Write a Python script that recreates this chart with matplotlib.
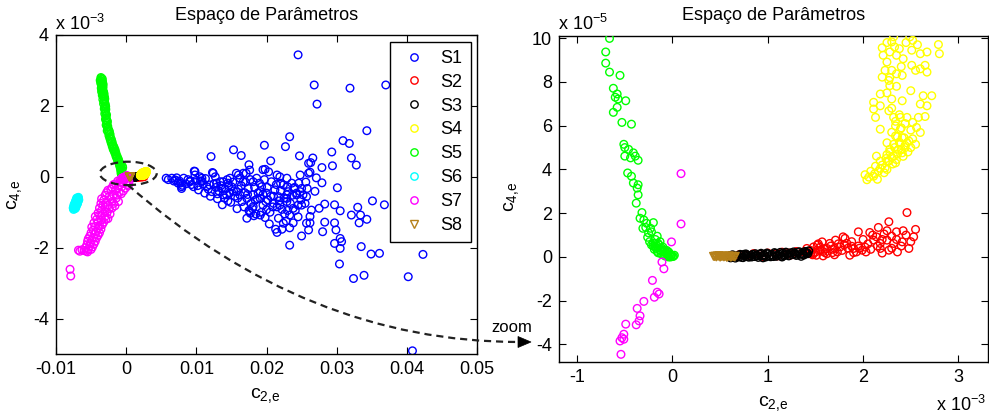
import numpy as np
import matplotlib
matplotlib.use("Agg")
import matplotlib.pyplot as plt
from matplotlib.patches import Ellipse, PathPatch, Polygon
from matplotlib.path import Path
from matplotlib.lines import Line2D

plt.rcParams["font.family"] = ["Liberation Sans", "DejaVu Sans"]
plt.rcParams["mathtext.default"] = "regular"
plt.rcParams["axes.unicode_minus"] = False

# Parameter estimates (c2,e ; c4,e) per scenario.
# c2,e in units of 1e-3, c4,e in units of 1e-5.
s1_points = [
    (24.5, 344), (26.8, 259), (27.2, 205), (31.9, 250), (37.0, 259), (34.3, 130),
    (30.9, 102), (31.8, 94), (32.1, 53), (32.8, 33), (29.3, 70), (29.4, 31),
    (30.1, -31), (35.1, -68), (36.8, -79), (29.7, -79), (30.5, -96), (33.0, -86),
    (32.1, -108), (33.4, -108), (34.3, -120), (33.2, -130), (29.7, -130), (29.9, -150),
    (30.5, -174), (30.7, -183), (29.7, -188), (30.5, -202), (33.5, -197), (34.9, -218),
    (36.1, -216), (42.3, -219), (30.4, -246), (32.4, -287), (33.9, -278), (40.2, -282),
    (40.8, -491), (23.3, -193), (25.0, -167), (26.0, -150), (26.2, -130), (26.2, -112),
    (26.4, -94), (26.9, -41), (27.5, -89), (28.0, -155), (28.3, -128), (27.9, -17),
    (27.9, 26), (26.2, 13), (26.3, 40), (26.6, 53), (24.7, 59), (23.3, 113),
    (22.7, 85), (19.7, 89), (15.3, 76), (16.4, 60), (12.1, 57), (20.6, 45),
    (17.5, 34), (19.5, 20), (9.8, 15), (12.4, 10), (5.7, -4), (17.2, -117),
    (19.1, -108), (17.7, -103), (13.7, -79), (14.9, -72), (20.4, -133), (21.3, -148),
    (22.2, -148), (22.8, -125), (23.3, -144), (24.5, -113), (27.1, -3), (28.3, -77),
    (21.5, -157), (23.3, -108), (25.5, -75), (25.0, -80), (25.7, -131), (22.4, -131),
    (21.7, -117), (20.0, -93), (18.1, -84), (17.6, -98), (18.4, -66), (19.1, -61),
    (21.0, -75), (21.9, -80), (22.9, -70), (23.8, -89), (24.5, -80), (25.2, -51),
    (24.3, -46), (22.9, -51), (16.2, -51), (17.2, -61), (14.8, -45), (13.8, -51),
    (12.2, -42), (11.2, -46), (7.0, -9), (7.9, -28), (9.1, -14), (9.8, 5),
    (10.8, -4), (11.5, -28), (12.9, -18), (13.6, -33), (14.3, -51), (15.0, -28),
    (15.7, -42), (16.0, 5), (16.7, -14), (17.4, -33), (18.1, -51), (18.6, -4),
    (19.3, -28), (20.0, -46), (20.7, -14), (21.2, -37), (21.7, -56), (22.4, -23),
    (23.1, -42), (23.6, -18), (24.3, -51), (25.0, -33), (25.7, -56), (21.9, 0),
    (20.3, 14), (17.6, 19), (16.7, 10), (14.8, -4), (13.8, -14), (12.7, 0),
    (8.2, -4), (7.4, -18), (6.5, -4), (10.3, -37), (9.6, -28), (19.1, -42),
    (22.9, -61), (14.0, -60), (15.5, -55), (16.5, -70), (18.0, -90), (19.5, -80),
    (20.5, -100), (21.0, -55), (22.0, -40), (23.0, -95), (24.0, -30), (12.8, -30),
    (11.0, -20), (10.0, -10), (8.5, -20), (13.2, -40), (14.6, -25), (16.0, -35),
    (17.0, -15), (18.8, -45), (20.2, -65), (21.5, -85), (22.6, -105), (19.8, -115),
    (18.5, -105), (17.8, -75), (15.8, -90), (24.8, 5), (25.6, -15), (23.8, -130),
    (19.8, 21), (12.3, 12), (9.7, 16), (7.7, -18), (7.9, -33), (9.1, -12),
    (10.5, 0), (10.8, -13), (11.9, -23), (13.4, -14), (14.5, -18), (15.7, 10),
    (16.2, -4), (17.1, 10), (18.1, -14), (19.0, -18), (21.5, 5), (22.0, -18),
    (22.9, -4), (23.9, -33), (24.8, -42), (25.8, -33), (26.0, 10), (26.0, 38),
    (6.0, -8), (6.8, -12), (7.2, -3), (7.6, -12), (8.0, -24), (8.8, -8),
    (9.3, -22), (10.2, -25), (10.6, -12), (11.3, -5), (11.7, -35), (12.5, -20),
    (13.0, -48), (13.5, -25), (14.1, -35), (14.4, -8), (15.2, -15), (15.3, -40),
    (15.9, -60), (16.4, -25), (16.9, -45), (17.3, -50), (17.7, -8), (18.3, -30),
    (18.7, -62), (19.5, -50), (19.7, -8), (20.1, -30), (20.6, -55), (20.9, -85),
    (21.4, -22), (21.8, -68), (22.2, -92), (22.5, -60), (23.0, -28), (23.4, -75),
    (23.7, -52), (24.1, -95), (24.6, -18), (24.9, -65), (16.8, -85), (17.5, -95),
    (18.2, -110), (19.3, -100), (19.9, -70), (14.5, -68), (13.0, -62), (12.0, -55),
]

s2_points = [
    (2.46, 2.03), (2.27, 1.61), (2.55, 1.26), (2.53, 0.92), (2.35, 1.15), (2.16, 1.35),
    (1.95, 1.15), (2.07, 1.12), (2.11, 0.77), (2.14, 0.92), (2.18, 0.62), (2.25, 0.77),
    (2.32, 0.62), (2.41, 0.69), (2.48, 0.39), (2.36, 0.23), (2.27, 0.31), (2.18, 0.39),
    (1.99, 0.31), (2.03, 0.23), (1.90, 0.39), (1.79, 0.92), (1.83, 0.62), (1.76, 0.46),
    (1.71, 0.77), (1.65, 0.62), (1.62, 0.39), (1.73, 0.23), (1.57, 0.69), (1.55, 0.31),
    (1.48, 0.46), (1.51, 0.08), (1.45, 0.15), (1.41, 0.39), (1.86, 0.08), (1.93, 0.23),
    (1.88, 0.49), (1.81, 0.85), (1.60, 0.20), (1.68, 0.35), (1.52, 0.55), (1.95, 0.50),
    (2.22, 1.05), (2.30, 0.95), (2.42, 1.20), (2.20, 0.18), (2.05, 0.60), (1.70, 0.10),
    (1.58, 0.05), (0.62, 0.05), (0.70, 0.10), (0.78, 0.08), (0.85, 0.15), (0.92, 0.12),
    (1.00, 0.18), (1.08, 0.14), (1.15, 0.22), (1.22, 0.18), (1.30, 0.25), (1.38, 0.22),
    (0.95, 0.02), (1.10, 0.05), (1.25, 0.10),
    (1.45, 0.30), (1.50, 0.22), (1.55, 0.45), (1.60, 0.35), (1.62, 0.15), (1.66, 0.50),
    (1.70, 0.40), (1.74, 0.60), (1.78, 0.30), (1.80, 0.55), (1.84, 0.40), (1.88, 0.70),
    (1.90, 0.20), (1.96, 0.40), (2.00, 0.80), (2.02, 0.45), (2.08, 0.35), (2.10, 1.00),
    (2.15, 0.50), (2.20, 0.80), (2.25, 1.20), (2.30, 0.40), (2.35, 0.80), (2.40, 0.50),
    (2.45, 1.00), (2.50, 0.70), (1.47, 0.10), (1.53, 0.60), (1.58, 0.25), (1.68, 0.20),
    (1.42, 0.25), (1.48, 0.18),
]

s3_points = [
    (0.62, -0.02), (0.64, 0.04), (0.66, -0.05), (0.68, 0.06), (0.70, 0.00), (0.72, 0.08),
    (0.74, -0.03), (0.76, 0.05), (0.78, 0.10), (0.80, -0.01), (0.82, 0.07), (0.84, 0.12),
    (0.86, 0.02), (0.88, 0.09), (0.90, -0.02), (0.92, 0.13), (0.94, 0.05), (0.96, 0.10),
    (0.98, 0.00), (1.00, 0.14), (1.02, 0.06), (1.04, 0.11), (1.06, 0.02), (1.08, 0.16),
    (1.10, 0.08), (1.12, 0.13), (1.14, 0.04), (1.16, 0.18), (1.18, 0.09), (1.20, 0.14),
    (1.22, 0.05), (1.24, 0.19), (1.26, 0.11), (1.28, 0.16), (1.30, 0.07), (1.32, 0.21),
    (1.34, 0.12), (1.36, 0.17), (1.38, 0.09), (1.40, 0.22), (1.42, 0.15), (0.75, 0.12),
    (0.95, -0.04), (1.15, 0.00), (1.35, 0.03),
    (0.63, 0.10), (0.67, 0.02), (0.71, 0.12), (0.73, -0.02), (0.77, 0.14), (0.79, 0.03),
    (0.83, 0.00), (0.87, 0.15), (0.89, 0.05), (0.93, 0.17), (0.97, 0.06), (0.99, 0.18),
    (1.03, 0.01), (1.07, 0.20), (1.09, 0.03), (1.13, 0.21), (1.17, 0.06), (1.19, 0.22),
    (1.23, 0.08), (1.27, 0.23), (1.29, 0.12), (1.33, 0.24), (1.37, 0.13), (1.39, 0.25),
    (1.41, 0.18), (1.43, 0.28), (0.60, 0.06), (0.61, -0.04),
]

s4_points = [
    (2.79, 9.71), (2.80, 9.29), (2.67, 9.37), (2.60, 9.29), (2.51, 9.45), (2.49, 10.06),
    (2.32, 10.06), (2.30, 9.83), (2.20, 9.56), (2.21, 9.22), (2.28, 9.37), (2.35, 9.22),
    (2.38, 9.52), (2.42, 9.06), (2.25, 8.91), (2.23, 8.53), (2.30, 8.53), (2.35, 8.37),
    (2.41, 8.30), (2.20, 8.22), (2.27, 8.07), (2.28, 7.83), (2.51, 8.76), (2.55, 8.53),
    (2.60, 8.60), (2.67, 8.45), (2.65, 8.76), (2.50, 7.60), (2.63, 7.37), (2.72, 7.37),
    (2.67, 6.91), (2.60, 6.99), (2.18, 7.45), (2.30, 7.22), (2.41, 7.14), (2.11, 7.07),
    (2.11, 6.76), (2.18, 6.91), (2.13, 6.38), (2.27, 6.68), (2.32, 6.38), (2.39, 6.38),
    (2.46, 6.38), (2.58, 6.38), (2.65, 6.42), (2.56, 5.92), (2.52, 6.15), (2.60, 5.69),
    (2.18, 5.84), (2.34, 5.99), (2.39, 5.84), (2.34, 5.53), (2.41, 5.45), (2.25, 5.22),
    (2.32, 5.15), (2.39, 5.15), (2.46, 5.22), (2.55, 5.15), (2.28, 4.92), (2.37, 4.92),
    (2.44, 5.00), (2.25, 4.68), (2.32, 4.61), (2.41, 4.76), (2.14, 4.61), (2.18, 4.38),
    (2.27, 4.38), (2.34, 4.30), (2.13, 4.15), (2.23, 4.07), (2.16, 3.92), (2.08, 3.92),
    (2.02, 3.76), (2.04, 3.53), (2.11, 3.69), (2.25, 4.00),
    (2.30, 4.55), (2.36, 4.70), (2.40, 4.90), (2.44, 5.10), (2.48, 5.30), (2.28, 4.80),
    (2.33, 5.00), (2.38, 5.25), (2.43, 5.45), (2.26, 4.40), (2.31, 4.25), (2.20, 4.20),
    (2.24, 4.50), (2.35, 4.45), (2.42, 4.60), (2.47, 4.80), (2.50, 5.00), (2.52, 5.40),
    (2.36, 5.50), (2.30, 5.70), (2.40, 5.90), (2.34, 6.20), (2.44, 6.10), (2.50, 5.80),
    (2.38, 6.50), (2.30, 6.80), (2.25, 7.50), (2.35, 7.80), (2.28, 8.20), (2.40, 8.70),
    (2.33, 9.60), (2.45, 9.80), (2.52, 9.90), (2.57, 9.70), (2.25, 9.80), (2.18, 4.05),
    (2.12, 3.80), (2.06, 3.65), (2.15, 3.55), (2.22, 3.85),
    (2.35, 10.6), (2.50, 11.2), (2.62, 11.8), (2.45, 12.0), (2.72, 12.5), (2.55, 12.9),
    (2.80, 13.4), (2.68, 13.8), (2.88, 14.3), (2.75, 14.8), (2.60, 11.5), (2.40, 10.3),
    (2.85, 15.2), (2.30, 11.0), (2.55, 12.2), (2.65, 13.0), (2.78, 14.0), (2.90, 14.8),
    (2.48, 11.8), (2.70, 12.2), (2.82, 13.0),
]

s5_points = [
    (-0.66, 9.99), (-0.70, 9.37), (-0.70, 8.86), (-0.66, 8.45), (-0.55, 8.30), (-0.62, 7.71),
    (-0.58, 7.45), (-0.60, 7.30), (-0.57, 7.22), (-0.49, 7.14), (-0.58, 6.84), (-0.62, 6.61),
    (-0.53, 6.15), (-0.43, 6.07), (-0.51, 5.15), (-0.50, 5.00), (-0.46, 4.92), (-0.41, 4.76),
    (-0.50, 4.61), (-0.44, 4.53), (-0.36, 4.42), (-0.39, 4.61), (-0.47, 3.84), (-0.43, 3.69),
    (-0.41, 3.38), (-0.36, 3.30), (-0.37, 3.15), (-0.36, 2.84), (-0.38, 2.46), (-0.32, 2.03),
    (-0.34, 1.77), (-0.30, 1.69), (-0.27, 1.54), (-0.20, 1.57), (-0.31, 1.31), (-0.23, 1.31),
    (-0.22, 1.15), (-0.18, 0.62), (-0.16, 0.50), (-0.15, 0.62), (-0.11, 0.39), (-0.08, 0.31),
    (-0.04, 0.23), (-0.01, 0.08), (-0.02, 0.00), (0.01, 0.03), (-0.06, 0.12), (-0.10, 0.23),
    (-0.13, 0.31), (-0.18, 0.46), (-0.20, 0.62), (-0.15, 0.19), (-0.05, 0.05), (-0.03, 0.15),
    (0.00, 0.02), (-0.12, 0.28), (-0.09, 0.12), (-0.07, 0.20), (-0.17, 0.40), (-0.14, 0.55),
    (-0.20, 0.50),
    (-0.06, 0.30), (-0.10, 0.45), (-0.13, 0.70), (-0.18, 0.80), (-0.16, 0.95), (-0.25, 1.10),
    (-0.28, 1.35), (-0.02, 0.10), (0.02, 0.08), (-0.04, 0.00), (-0.08, 0.05), (-0.12, 0.15),
    (-0.16, 0.25), (-0.19, 0.35), (-0.22, 0.55), (-0.24, 0.70), (-0.26, 0.90),
    (-3.60, 280), (-3.40, 276), (-3.55, 270), (-3.35, 265), (-3.50, 258), (-3.30, 252),
    (-3.45, 246), (-3.22, 240), (-3.15, 234), (-3.25, 228), (-3.05, 220), (-3.15, 212),
    (-2.98, 205), (-3.05, 197), (-2.90, 190), (-2.95, 182), (-2.80, 175), (-2.85, 166),
    (-2.72, 158), (-2.75, 150), (-2.62, 142), (-2.55, 134), (-2.40, 127), (-2.30, 120),
    (-2.25, 112), (-2.10, 105), (-2.00, 98), (-1.90, 90), (-1.75, 84), (-1.60, 77),
    (-1.50, 70), (-1.40, 63), (-1.25, 56), (-1.10, 49), (-1.00, 42), (-0.85, 36),
    (-0.80, 30), (-0.72, 24), (-0.70, 18), (-0.68, 13), (-3.48, 274), (-3.28, 260),
    (-3.10, 225), (-2.92, 198), (-2.68, 155), (-2.45, 130), (-1.80, 80), (-1.15, 45),
    (-0.92, 33), (-3.52, 278), (-3.38, 268), (-3.58, 262), (-3.42, 255), (-3.36, 243),
    (-3.70, 272), (-3.62, 266), (-3.46, 262), (-3.55, 250), (-3.38, 248), (-3.50, 240),
    (-3.30, 236), (-3.40, 230), (-3.18, 226), (-3.32, 218), (-3.10, 214), (-3.22, 206),
    (-3.02, 200), (-3.12, 192), (-2.96, 186), (-3.05, 178), (-2.88, 172), (-2.95, 162),
    (-2.80, 160), (-2.85, 146), (-2.68, 140), (-2.70, 130), (-2.50, 124), (-2.45, 116),
    (-2.32, 108), (-2.20, 100), (-2.10, 94), (-1.98, 86), (-1.85, 78), (-1.70, 72),
    (-1.58, 66), (-1.45, 58), (-1.32, 52), (-1.20, 46), (-1.05, 40), (-0.95, 35),
    (-0.88, 28), (-0.78, 22), (-0.75, 16), (-0.60, 20), (-0.55, 30), (-0.50, 26),
]

s6_points = [
    (-6.80, -58), (-6.90, -62), (-7.00, -66), (-6.75, -65), (-7.10, -70), (-6.90, -72),
    (-7.20, -75), (-7.00, -78), (-7.30, -80), (-7.15, -84), (-7.45, -86), (-7.30, -90),
    (-7.50, -92), (-6.85, -68), (-7.25, -72), (-7.40, -82), (-7.05, -60),
    (-6.95, -64), (-7.05, -70), (-7.15, -76), (-7.25, -82), (-7.35, -88), (-6.85, -60),
    (-7.10, -64), (-7.20, -68), (-7.35, -76), (-7.45, -80), (-6.95, -75), (-7.10, -80),
    (-7.20, -88), (-7.55, -88),
]

s7_points = [
    (0.09, 3.81), (0.09, 1.51), (-0.01, 0.69), (-0.11, -0.23), (-0.09, -0.54), (-0.21, -1.07),
    (-0.16, -1.61), (-0.14, -1.69), (-0.19, -1.84), (-0.30, -2.03), (-0.37, -2.35), (-0.34, -2.69),
    (-0.35, -2.92), (-0.38, -3.10), (-0.49, -3.07), (-0.51, -3.53), (-0.53, -3.69), (-0.55, -3.84),
    (-0.51, -3.76), (-0.54, -4.45),
    (-0.3, -10), (-0.9, -15), (-1.5, -20), (0.1, -22), (-0.6, -28), (-1.2, -32),
    (-2.0, -30), (-2.6, -38), (-0.4, -40), (-1.0, -45), (-1.8, -50), (-2.4, -55),
    (-3.0, -52), (-3.5, -62), (-1.4, -60), (-2.0, -70), (-2.8, -72), (-3.3, -80),
    (-1.6, -82), (-2.4, -90), (-3.8, -88), (-3.0, -98), (-2.3, -105), (-4.0, -102),
    (-3.5, -110), (-2.6, -118), (-4.2, -120), (-3.2, -128), (-4.6, -130), (-3.8, -138),
    (-4.9, -142), (-3.6, -148), (-4.3, -155), (-5.0, -158), (-4.0, -165), (-4.6, -172),
    (-5.4, -175), (-4.4, -182), (-5.1, -188), (-5.6, -192), (-4.8, -198), (-5.4, -205),
    (-6.0, -208), (-6.8, -207), (-5.7, -210), (-8.0, -261), (-7.9, -280), (-1.1, -70),
    (-2.9, -120), (-0.5, -6), (-0.2, -8), (0.2, -12), (-1.2, -12), (0.4, -15), (0.3, -25),
    (-0.8, -8), (0.0, -15), (-0.5, -18), (-1.8, -22), (-1.0, -25), (-2.2, -35),
    (-0.1, -32), (-1.5, -38), (-0.7, -48), (-2.8, -45), (-1.3, -52), (-2.2, -62),
    (-3.2, -66), (-1.8, -75), (-2.6, -80), (-3.6, -75), (-2.0, -88), (-3.0, -85),
    (-3.5, -95), (-2.7, -100), (-3.8, -108), (-3.0, -112), (-4.4, -112), (-3.5, -122),
    (-4.0, -128), (-3.4, -135), (-4.4, -140), (-4.0, -145), (-4.7, -150), (-3.8, -158),
    (-4.5, -162), (-5.2, -168), (-4.2, -172), (-4.9, -178), (-5.5, -182), (-4.6, -190),
    (-5.2, -196), (-5.8, -200), (-5.0, -205), (-6.3, -206), (-5.5, -212), (-6.6, -210),
]

s8_points = [
    (0.44, 0.02), (0.46, 0.00), (0.48, 0.03), (0.50, -0.01), (0.52, 0.02), (0.54, 0.00),
    (0.56, 0.04), (0.58, 0.01), (0.60, 0.03), (0.62, 0.00), (0.64, 0.02), (0.47, 0.05),
    (0.53, 0.05), (0.57, -0.02), (0.45, 0.04), (0.49, 0.06), (0.51, 0.03), (0.55, 0.02),
    (0.59, 0.05), (0.61, -0.01), (0.63, 0.04), (0.43, 0.03), (0.65, 0.00), (0.66, 0.03),
]

labels = ["S1", "S2", "S3", "S4", "S5", "S6", "S7", "S8"]
colors = ["#0000ff", "#ff0000", "#000000", "#ffff00", "#00ff00", "#00ffff", "#ff00ff", "#b5801a"]
markers = ["o", "o", "o", "o", "o", "o", "o", "v"]
groups = [s1_points, s2_points, s3_points, s4_points, s5_points, s6_points, s7_points, s8_points]

W, H = 989, 419
fig = plt.figure(figsize=(W / 100, H / 100), dpi=100)


def fx(px):
    return px / W


def fy(py):
    return 1 - py / H


ax1 = fig.add_axes([fx(56), fy(354), 421 / W, 319 / H])
ax2 = fig.add_axes([fx(559), fy(362), 429 / W, 326 / H])

FS = 13
for i, (lab, pts, mk, col) in enumerate(zip(labels, groups, markers, colors)):
    a = np.array(pts, dtype=float)
    c2 = a[:, 0] * 1e-3
    c4 = a[:, 1] * 1e-5
    kw = dict(marker=mk, s=30, facecolors="none", edgecolors=col, linewidths=1.0, zorder=2 + i)
    ax1.scatter(c2, c4 / 1e-3, **kw)
    ax2.scatter(c2 / 1e-3, c4 / 1e-5, **kw)

# left panel: full parameter space
ax1.set_xlim(-0.01, 0.05)
ax1.set_ylim(-5, 4)
ax1.set_xticks([-0.01, 0, 0.01, 0.02, 0.03, 0.04, 0.05])
ax1.set_xticklabels(["-0.01", "0", "0.01", "0.02", "0.03", "0.04", "0.05"])
ax1.set_yticks([-4, -2, 0, 2, 4])
ax1.set_yticklabels(["-4", "-2", "0", "2", "4"])

# right panel: zoom around the origin
ax2.set_xlim(-1.19, 3.31)
ax2.set_ylim(-4.8, 10.1)
ax2.set_xticks([-1, 0, 1, 2, 3])
ax2.set_xticklabels(["-1", "0", "1", "2", "3"])
ax2.set_yticks([-4, -2, 0, 2, 4, 6, 8, 10])
ax2.set_yticklabels(["-4", "-2", "0", "2", "4", "6", "8", "10"])

for ax in (ax1, ax2):
    ax.tick_params(direction="in", top=True, right=True, length=5, width=0.8,
                   labelsize=FS, pad=5, colors="black")
    for sp in ax.spines.values():
        sp.set_linewidth(1.0)
        sp.set_color("black")

# legend
handles = [Line2D([], [], linestyle="none", marker=mk, markersize=5.3, markerfacecolor="none",
                  markeredgecolor=col, markeredgewidth=1.0)
           for mk, col in zip(markers, colors)]
leg = ax1.legend(handles, labels, loc="upper right", bbox_to_anchor=(0.985, 0.979),
                 fontsize=FS, frameon=True, fancybox=False, framealpha=1, borderaxespad=0,
                 borderpad=0.45, handlelength=1.8, handletextpad=0.55, labelspacing=0.38)
leg.get_frame().set_edgecolor("black")
leg.get_frame().set_linewidth(1.0)

# titles, labels and exponent notes
for cx in (266.5, 773.5):
    fig.text(fx(cx), fy(15.5), "Espaço de Parâmetros", ha="center", va="center", fontsize=FS)
fig.text(fx(55), fy(24), r"x 10$^{-3}$", ha="left", va="center", fontsize=FS)
fig.text(fx(558), fy(24), r"x 10$^{-5}$", ha="left", va="center", fontsize=FS)
fig.text(fx(986), fy(405), r"x 10$^{-3}$", ha="right", va="center", fontsize=FS)
fig.text(fx(265), fy(396), r"c$_{2,\!e}$", ha="center", va="center", fontsize=FS + 1)
fig.text(fx(773), fy(404), r"c$_{2,\!e}$", ha="center", va="center", fontsize=FS + 1)
fig.text(fx(15), fy(195), r"c$_{4,\!e}$", ha="center", va="center", rotation=90, fontsize=FS + 1)
fig.text(fx(512), fy(197), r"c$_{4,\!e}$", ha="center", va="center", rotation=90, fontsize=FS + 1)

# dashed ellipse marking the zoomed region
ax1.add_patch(Ellipse((0.0003, 0.095), width=0.0081, height=0.66, fill=False,
                      edgecolor="#222222", linewidth=1.6, linestyle=(0, (3.5, 2.2)), zorder=20))

# dashed arrow leading to the zoom panel
p0 = (fx(128), fy(185))
p1 = (fx(307), fy(342))
p2 = (fx(519), fy(342))
curve = Path([p0, p1, p2], [Path.MOVETO, Path.CURVE3, Path.CURVE3])
fig.add_artist(PathPatch(curve, transform=fig.transFigure, fill=False, edgecolor="#222222",
                         linewidth=1.6, linestyle=(0, (3.2, 2.2)), zorder=20))
fig.add_artist(Polygon([(fx(531), fy(342)), (fx(518), fy(336.5)), (fx(518), fy(347.5))],
                       closed=True, transform=fig.transFigure, facecolor="black",
                       edgecolor="black", linewidth=0.5, zorder=21))
fig.text(fx(512), fy(327), "zoom", ha="center", va="center", fontsize=FS - 1)

fig.savefig("out.png", dpi=100)
